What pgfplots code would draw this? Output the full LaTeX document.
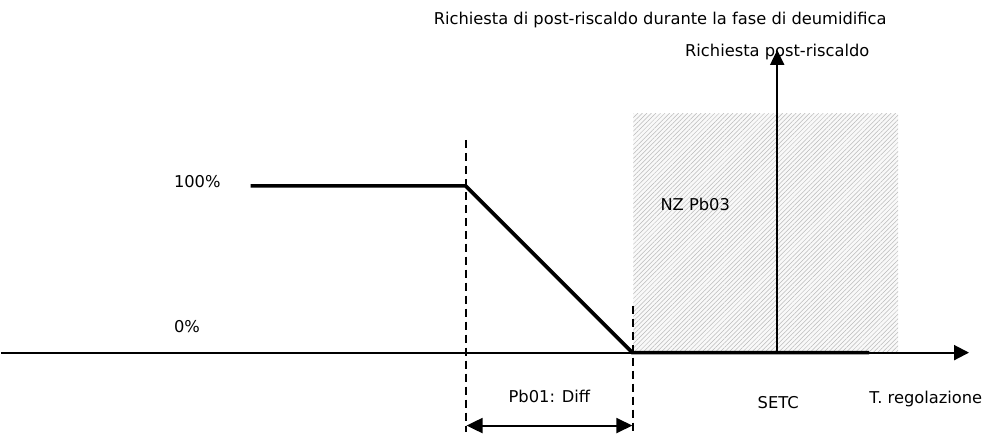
\documentclass[border=0pt]{standalone}
\usepackage{fontspec}
\setmainfont{DejaVu Sans}
\usepackage{pgfplots}
\pgfplotsset{compat=1.18}
\usetikzlibrary{arrows.meta,patterns.meta}
\newcommand{\lab}{\fontsize{16.3}{19}\selectfont}
\begin{document}
\begin{tikzpicture}
\begin{axis}[
    width=983pt, height=435pt, scale only axis,
    xmin=0, xmax=983, ymin=0, ymax=435,
    hide axis, clip=false,
]
% fix the picture size
\path (axis cs:0,0) rectangle (axis cs:983,435);

% hatched neutral zone
\addplot[draw=none, fill=gray!5] coordinates {(633,82) (898,82) (898,321) (633,321) (633,82)};
\addplot[draw=none, pattern={Lines[angle=45,distance=3.2pt,line width=0.5pt]}, pattern color=gray!55] coordinates {(633,82) (898,82) (898,321) (633,321) (633,82)};

% temperature axis
\addplot[black, line width=2pt, -{Triangle[length=15pt,width=15pt]}] coordinates {(0,82) (969,82)};
% request axis
\addplot[black, line width=2pt, -{Triangle[length=15pt,width=14pt]}] coordinates {(777,82) (777,385)};

% request curve
\addplot[black, line width=3.6pt] coordinates {(250,249) (465,249) (632,82) (869,82)};

% dashed guides
\addplot[black, line width=2pt, dash pattern=on 8pt off 5pt] coordinates {(465,295) (465,3)};
\addplot[black, line width=2pt, dash pattern=on 8pt off 5pt] coordinates {(633,129) (633,3)};

% differential arrow
\addplot[black, line width=2pt, {Triangle[length=16pt,width=15pt]}-{Triangle[length=16pt,width=15pt]}] coordinates {(466,9) (632,9)};

\node[font=\lab, inner sep=0pt, anchor=base west] at (axis cs:433,410) {Richiesta di post-riscaldo durante la fase di deumidifica};
\node[font=\lab, inner sep=0pt, anchor=base] at (axis cs:777,378) {Richiesta post-riscaldo};
\node[font=\lab, inner sep=0pt, anchor=base west] at (axis cs:173,247) {100\%};
\node[font=\lab, inner sep=0pt, anchor=base west] at (axis cs:173,102) {0\%};
\node[font=\lab, inner sep=0pt, anchor=base west] at (axis cs:660,224) {NZ Pb03};
\node[font=\lab, inner sep=0pt, anchor=base] at (axis cs:549,32) {Pb01: Diff};
\node[font=\lab, inner sep=0pt, anchor=base] at (axis cs:778,26) {SETC};
\node[font=\lab, inner sep=0pt, anchor=base west] at (axis cs:869,31) {T. regolazione};
\end{axis}
\end{tikzpicture}
\end{document}
